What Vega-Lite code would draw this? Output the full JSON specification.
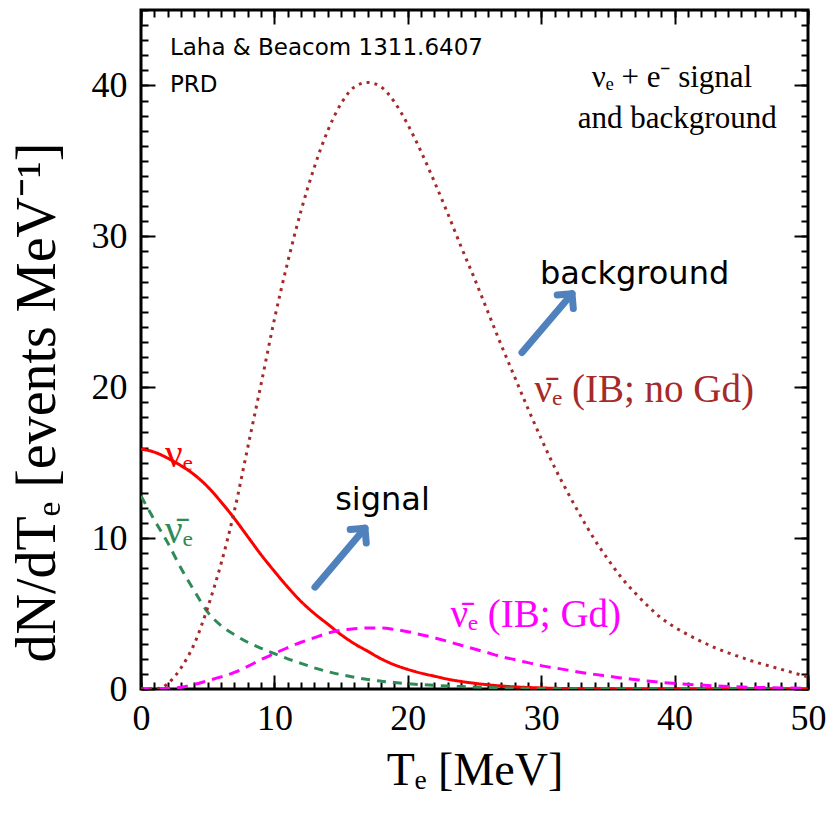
{
  "$schema": "https://vega.github.io/schema/vega-lite/v6.json",
  "width": 667,
  "height": 679,
  "autosize": {"type": "none"},
  "padding": {"left": 141, "top": 10, "right": 25, "bottom": 124},
  "background": "white",
  "config": {
    "view": {"stroke": "black", "strokeWidth": 3},
    "axis": {
      "domain": false,
      "grid": false,
      "tickColor": "black",
      "tickWidth": 2,
      "labelFont": "Liberation Serif",
      "labelColor": "black",
      "labelOverlap": false,
      "labelFlush": false,
      "titleFont": "Liberation Serif",
      "titleColor": "black",
      "titleFontWeight": "normal"
    }
  },
  "datasets": {
    "curves": [
      {"s": "nue", "T": 0, "v": 15.9}, {"s": "nue", "T": 1, "v": 15.7}, {"s": "nue", "T": 2, "v": 15.3},
      {"s": "nue", "T": 3, "v": 14.8}, {"s": "nue", "T": 4, "v": 14.2}, {"s": "nue", "T": 5, "v": 13.4},
      {"s": "nue", "T": 6, "v": 12.4}, {"s": "nue", "T": 7, "v": 11.3}, {"s": "nue", "T": 8, "v": 10.1},
      {"s": "nue", "T": 9, "v": 8.9}, {"s": "nue", "T": 10, "v": 7.8}, {"s": "nue", "T": 11, "v": 6.75},
      {"s": "nue", "T": 12, "v": 5.8}, {"s": "nue", "T": 13, "v": 5.0}, {"s": "nue", "T": 14, "v": 4.3},
      {"s": "nue", "T": 15, "v": 3.6}, {"s": "nue", "T": 16, "v": 3.0}, {"s": "nue", "T": 17, "v": 2.5},
      {"s": "nue", "T": 18, "v": 2.0}, {"s": "nue", "T": 19, "v": 1.6}, {"s": "nue", "T": 20, "v": 1.3},
      {"s": "nue", "T": 21, "v": 1.05}, {"s": "nue", "T": 22, "v": 0.85}, {"s": "nue", "T": 23, "v": 0.65},
      {"s": "nue", "T": 24, "v": 0.5}, {"s": "nue", "T": 25, "v": 0.38}, {"s": "nue", "T": 26, "v": 0.28},
      {"s": "nue", "T": 27, "v": 0.2}, {"s": "nue", "T": 28, "v": 0.14}, {"s": "nue", "T": 29, "v": 0.1},
      {"s": "nue", "T": 30, "v": 0.07}, {"s": "nue", "T": 32, "v": 0.03}, {"s": "nue", "T": 35, "v": 0.01},
      {"s": "nue", "T": 40, "v": 0}, {"s": "nue", "T": 50, "v": 0},

      {"s": "nuebar", "T": 0, "v": 12.8}, {"s": "nuebar", "T": 1, "v": 11.2}, {"s": "nuebar", "T": 2, "v": 9.7},
      {"s": "nuebar", "T": 3, "v": 8.0}, {"s": "nuebar", "T": 4, "v": 6.5}, {"s": "nuebar", "T": 5, "v": 5.1},
      {"s": "nuebar", "T": 6, "v": 4.2}, {"s": "nuebar", "T": 7, "v": 3.6}, {"s": "nuebar", "T": 8, "v": 3.1},
      {"s": "nuebar", "T": 9, "v": 2.7}, {"s": "nuebar", "T": 10, "v": 2.35}, {"s": "nuebar", "T": 11, "v": 2.0},
      {"s": "nuebar", "T": 12, "v": 1.7}, {"s": "nuebar", "T": 13, "v": 1.4}, {"s": "nuebar", "T": 14, "v": 1.15},
      {"s": "nuebar", "T": 15, "v": 0.95}, {"s": "nuebar", "T": 16, "v": 0.78}, {"s": "nuebar", "T": 17, "v": 0.63},
      {"s": "nuebar", "T": 18, "v": 0.52}, {"s": "nuebar", "T": 19, "v": 0.43}, {"s": "nuebar", "T": 20, "v": 0.35},
      {"s": "nuebar", "T": 22, "v": 0.24}, {"s": "nuebar", "T": 24, "v": 0.16}, {"s": "nuebar", "T": 26, "v": 0.1},
      {"s": "nuebar", "T": 28, "v": 0.06}, {"s": "nuebar", "T": 30, "v": 0.03}, {"s": "nuebar", "T": 35, "v": 0.01},
      {"s": "nuebar", "T": 40, "v": 0}, {"s": "nuebar", "T": 50, "v": 0},

      {"s": "ibgd", "T": 0, "v": 0}, {"s": "ibgd", "T": 1, "v": 0}, {"s": "ibgd", "T": 2, "v": 0.05},
      {"s": "ibgd", "T": 3, "v": 0.12}, {"s": "ibgd", "T": 4, "v": 0.3}, {"s": "ibgd", "T": 5, "v": 0.55},
      {"s": "ibgd", "T": 6, "v": 0.8}, {"s": "ibgd", "T": 7, "v": 1.1}, {"s": "ibgd", "T": 8, "v": 1.5},
      {"s": "ibgd", "T": 9, "v": 1.95}, {"s": "ibgd", "T": 10, "v": 2.35}, {"s": "ibgd", "T": 11, "v": 2.75},
      {"s": "ibgd", "T": 12, "v": 3.1}, {"s": "ibgd", "T": 13, "v": 3.4}, {"s": "ibgd", "T": 14, "v": 3.7},
      {"s": "ibgd", "T": 15, "v": 3.9}, {"s": "ibgd", "T": 16, "v": 4.0}, {"s": "ibgd", "T": 17, "v": 4.05},
      {"s": "ibgd", "T": 18, "v": 4.05}, {"s": "ibgd", "T": 19, "v": 3.95}, {"s": "ibgd", "T": 20, "v": 3.8},
      {"s": "ibgd", "T": 21, "v": 3.6}, {"s": "ibgd", "T": 22, "v": 3.4}, {"s": "ibgd", "T": 23, "v": 3.15},
      {"s": "ibgd", "T": 24, "v": 2.9}, {"s": "ibgd", "T": 25, "v": 2.65}, {"s": "ibgd", "T": 26, "v": 2.4},
      {"s": "ibgd", "T": 27, "v": 2.15}, {"s": "ibgd", "T": 28, "v": 1.95}, {"s": "ibgd", "T": 29, "v": 1.75},
      {"s": "ibgd", "T": 30, "v": 1.55}, {"s": "ibgd", "T": 31, "v": 1.4}, {"s": "ibgd", "T": 32, "v": 1.25},
      {"s": "ibgd", "T": 33, "v": 1.1}, {"s": "ibgd", "T": 34, "v": 0.97}, {"s": "ibgd", "T": 35, "v": 0.85},
      {"s": "ibgd", "T": 36, "v": 0.73}, {"s": "ibgd", "T": 37, "v": 0.63}, {"s": "ibgd", "T": 38, "v": 0.53},
      {"s": "ibgd", "T": 39, "v": 0.44}, {"s": "ibgd", "T": 40, "v": 0.37}, {"s": "ibgd", "T": 42, "v": 0.26},
      {"s": "ibgd", "T": 44, "v": 0.17}, {"s": "ibgd", "T": 46, "v": 0.11}, {"s": "ibgd", "T": 48, "v": 0.07},
      {"s": "ibgd", "T": 50, "v": 0.04},

      {"s": "ibnogd", "T": 0, "v": 0}, {"s": "ibnogd", "T": 1, "v": 0}, {"s": "ibnogd", "T": 1.6, "v": 0.1},
      {"s": "ibnogd", "T": 2, "v": 0.35}, {"s": "ibnogd", "T": 3, "v": 1.4}, {"s": "ibnogd", "T": 4, "v": 3.0},
      {"s": "ibnogd", "T": 5, "v": 5.4}, {"s": "ibnogd", "T": 6, "v": 8.3}, {"s": "ibnogd", "T": 7, "v": 11.8},
      {"s": "ibnogd", "T": 8, "v": 16.0}, {"s": "ibnogd", "T": 9, "v": 20.2}, {"s": "ibnogd", "T": 10, "v": 24.5},
      {"s": "ibnogd", "T": 11, "v": 28.3}, {"s": "ibnogd", "T": 12, "v": 31.7}, {"s": "ibnogd", "T": 13, "v": 34.6},
      {"s": "ibnogd", "T": 14, "v": 37.0}, {"s": "ibnogd", "T": 15, "v": 38.8}, {"s": "ibnogd", "T": 16, "v": 39.9},
      {"s": "ibnogd", "T": 17, "v": 40.2}, {"s": "ibnogd", "T": 18, "v": 39.9}, {"s": "ibnogd", "T": 19, "v": 38.9},
      {"s": "ibnogd", "T": 20, "v": 37.4}, {"s": "ibnogd", "T": 21, "v": 35.6}, {"s": "ibnogd", "T": 22, "v": 33.6},
      {"s": "ibnogd", "T": 23, "v": 31.5}, {"s": "ibnogd", "T": 24, "v": 29.3}, {"s": "ibnogd", "T": 25, "v": 27.2},
      {"s": "ibnogd", "T": 26, "v": 25.0}, {"s": "ibnogd", "T": 27, "v": 22.8}, {"s": "ibnogd", "T": 28, "v": 20.7},
      {"s": "ibnogd", "T": 29, "v": 18.6}, {"s": "ibnogd", "T": 30, "v": 16.6}, {"s": "ibnogd", "T": 31, "v": 14.7},
      {"s": "ibnogd", "T": 32, "v": 13.0}, {"s": "ibnogd", "T": 33, "v": 11.4}, {"s": "ibnogd", "T": 34, "v": 9.9},
      {"s": "ibnogd", "T": 35, "v": 8.6}, {"s": "ibnogd", "T": 36, "v": 7.4}, {"s": "ibnogd", "T": 37, "v": 6.4},
      {"s": "ibnogd", "T": 38, "v": 5.5}, {"s": "ibnogd", "T": 39, "v": 4.7}, {"s": "ibnogd", "T": 40, "v": 4.1},
      {"s": "ibnogd", "T": 41, "v": 3.6}, {"s": "ibnogd", "T": 42, "v": 3.15}, {"s": "ibnogd", "T": 43, "v": 2.75},
      {"s": "ibnogd", "T": 44, "v": 2.4}, {"s": "ibnogd", "T": 45, "v": 2.1}, {"s": "ibnogd", "T": 46, "v": 1.8},
      {"s": "ibnogd", "T": 47, "v": 1.55}, {"s": "ibnogd", "T": 48, "v": 1.3}, {"s": "ibnogd", "T": 49, "v": 1.05},
      {"s": "ibnogd", "T": 50, "v": 0.8}
    ],
    "serieslabels": [
      {"s": "nue", "lx": 1.8, "ly": 15.5, "label": "νₑ"},
      {"s": "nuebar", "lx": 1.8, "ly": 10.5, "label": "ν̄ₑ"},
      {"s": "ibgd", "lx": 23.2, "ly": 4.9, "label": "ν̄ₑ (IB; Gd)"},
      {"s": "ibnogd", "lx": 29.5, "ly": 19.8, "label": "ν̄ₑ (IB; no Gd)"}
    ],
    "serifnotes": [
      {"nx": 39.8, "ny": 40.5, "note": "νₑ + e⁻ signal"},
      {"nx": 40.2, "ny": 37.8, "note": "and background"}
    ],
    "refnotes": [
      {"hx": 2.17, "hy": 42.5, "hand": "Laha & Beacom 1311.6407"},
      {"hx": 2.17, "hy": 40.0, "hand": "PRD"}
    ],
    "handnotes": [
      {"hx": 37.0, "hy": 27.5, "hand": "background"},
      {"hx": 18.1, "hy": 12.5, "hand": "signal"}
    ],
    "arrows": [
      {"x0": 13.04, "y0": 6.75, "x1": 16.79, "y1": 10.66},
      {"x0": 28.56, "y0": 22.3, "x1": 32.31, "y1": 26.2}
    ]
  },
  "layer": [
    {
      "data": {"name": "curves"},
      "mark": {"type": "line", "strokeWidth": 3, "interpolate": "monotone", "clip": true},
      "encoding": {
        "x": {
          "field": "T", "type": "quantitative",
          "scale": {"domain": [0, 50], "nice": false, "zero": false},
          "axis": {
            "orient": "bottom", "values": [0, 10, 20, 30, 40, 50],
            "tickSize": -14, "labelPadding": 26, "labelFontSize": 36,
            "title": "Tₑ [MeV]", "titleFontSize": 46, "titlePadding": 12
          }
        },
        "y": {
          "field": "v", "type": "quantitative",
          "scale": {"domain": [0, 45], "nice": false, "zero": false},
          "axis": {
            "orient": "left", "values": [0, 10, 20, 30, 40],
            "tickSize": -14, "labelPadding": 28, "labelFontSize": 36,
            "title": "dN/dTₑ [events MeV⁻¹]", "titleFontSize": 56,
            "titleAngle": 270, "titleX": -104, "titleY": 392,
            "titleAlign": "center", "titleBaseline": "middle"
          }
        },
        "color": {
          "field": "s", "type": "nominal", "legend": null,
          "scale": {"domain": ["nue", "nuebar", "ibgd", "ibnogd"], "range": ["#FF0000", "#2E8B57", "#FF00FF", "#A52A2A"]}
        },
        "strokeDash": {
          "field": "s", "type": "nominal", "legend": null,
          "scale": {"domain": ["nue", "nuebar", "ibgd", "ibnogd"], "range": [[1, 0], [9, 7], [11, 7], [3, 5]]}
        }
      }
    },
    {
      "data": {"name": "serieslabels"},
      "mark": {"type": "text", "font": "Liberation Serif", "fontSize": 39, "align": "left", "baseline": "middle"},
      "encoding": {
        "x": {"field": "lx", "type": "quantitative",
          "axis": {"orient": "bottom", "values": [0,1,2,3,4,5,6,7,8,9,10,11,12,13,14,15,16,17,18,19,20,21,22,23,24,25,26,27,28,29,30,31,32,33,34,35,36,37,38,39,40,41,42,43,44,45,46,47,48,49,50],
            "tickSize": -7, "labels": false, "title": null}},
        "y": {"field": "ly", "type": "quantitative",
          "axis": {"orient": "left", "values": [0,1,2,3,4,5,6,7,8,9,10,11,12,13,14,15,16,17,18,19,20,21,22,23,24,25,26,27,28,29,30,31,32,33,34,35,36,37,38,39,40,41,42,43,44,45],
            "tickSize": -7, "labels": false, "title": null}},
        "text": {"field": "label"},
        "color": {"field": "s", "type": "nominal", "legend": null}
      }
    },
    {
      "data": {"name": "serifnotes"},
      "mark": {"type": "text", "font": "Liberation Serif", "fontSize": 31, "align": "center", "baseline": "middle", "color": "black"},
      "encoding": {
        "x": {"field": "nx", "type": "quantitative",
          "axis": {"orient": "top", "values": [0, 10, 20, 30, 40, 50], "tickSize": -14, "labels": false, "title": null}},
        "y": {"field": "ny", "type": "quantitative",
          "axis": {"orient": "right", "values": [0, 10, 20, 30, 40], "tickSize": -14, "labels": false, "title": null}},
        "text": {"field": "note"}
      }
    },
    {
      "data": {"name": "handnotes"},
      "mark": {"type": "text", "font": "DejaVu Sans", "fontSize": 32, "align": "center", "baseline": "middle", "color": "black"},
      "encoding": {
        "x": {"field": "hx", "type": "quantitative",
          "axis": {"orient": "top", "values": [0,1,2,3,4,5,6,7,8,9,10,11,12,13,14,15,16,17,18,19,20,21,22,23,24,25,26,27,28,29,30,31,32,33,34,35,36,37,38,39,40,41,42,43,44,45,46,47,48,49,50],
            "tickSize": -7, "labels": false, "title": null}},
        "y": {"field": "hy", "type": "quantitative",
          "axis": {"orient": "right", "values": [0,1,2,3,4,5,6,7,8,9,10,11,12,13,14,15,16,17,18,19,20,21,22,23,24,25,26,27,28,29,30,31,32,33,34,35,36,37,38,39,40,41,42,43,44,45],
            "tickSize": -7, "labels": false, "title": null}},
        "text": {"field": "hand"}
      }
    },
    {
      "data": {"name": "refnotes"},
      "mark": {"type": "text", "font": "DejaVu Sans", "fontSize": 23, "align": "left", "baseline": "middle", "color": "black"},
      "encoding": {
        "x": {"field": "hx", "type": "quantitative", "axis": null},
        "y": {"field": "hy", "type": "quantitative", "axis": null},
        "text": {"field": "hand"}
      }
    },
    {
      "data": {"name": "arrows"},
      "mark": {"type": "rule", "color": "#4F81BD", "strokeWidth": 7, "strokeCap": "round"},
      "encoding": {
        "x": {"field": "x0", "type": "quantitative", "axis": null},
        "y": {"field": "y0", "type": "quantitative", "axis": null},
        "x2": {"field": "x1"},
        "y2": {"field": "y1"}
      }
    },
    {
      "data": {"name": "arrows"},
      "mark": {"type": "point", "shape": "M-0.7,0.7L0,0L0.7,0.7", "filled": false, "color": "#4F81BD", "strokeWidth": 7, "strokeCap": "round", "strokeJoin": "round", "size": 900, "angle": 40, "opacity": 1},
      "encoding": {
        "x": {"field": "x1", "type": "quantitative", "axis": null},
        "y": {"field": "y1", "type": "quantitative", "axis": null}
      }
    }
  ],
  "resolve": {"axis": {"x": "independent", "y": "independent"}}
}
